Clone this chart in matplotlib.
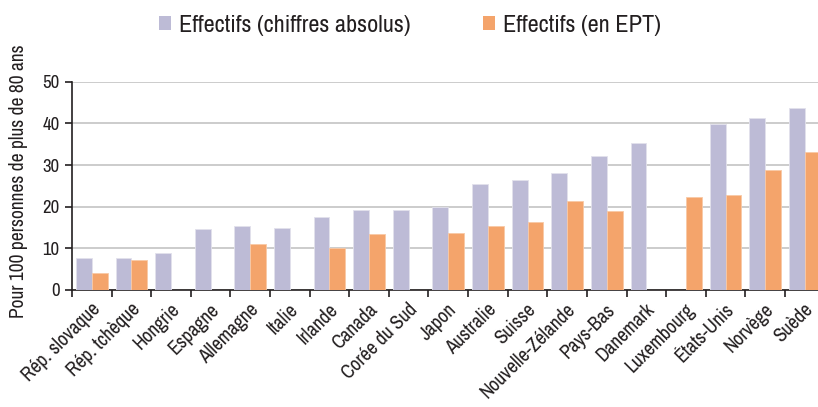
import matplotlib
matplotlib.use("Agg")
import matplotlib.pyplot as plt
import matplotlib.transforms as mtransforms
import numpy as np
from matplotlib.patches import Patch
from matplotlib import font_manager

names = {f.name for f in font_manager.fontManager.ttflist}
fam = 'Archivo Narrow' if 'Archivo Narrow' in names else 'Liberation Sans'
plt.rcParams['font.family'] = [fam, 'DejaVu Sans']

countries = ["Rép. slovaque", "Rép. tchèque", "Hongrie", "Espagne", "Allemagne", "Italie",
             "Irlande", "Canada", "Corée du Sud", "Japon", "Australie", "Suisse",
             "Nouvelle-Zélande", "Pays-Bas", "Danemark", "Luxembourg", "États-Unis",
             "Norvège", "Suède"]
absolus = [7.6, 7.6, 9.0, 14.6, 15.4, 15.0, 17.5, 19.3, 19.3, 19.9, 25.4, 26.3,
           28.1, 32.1, 35.2, None, 39.8, 41.3, 43.8]
ept = [4.0, 7.2, None, None, 11.0, None, 10.1, 13.5, None, 13.6, 15.4, 16.4,
       21.4, 19.0, None, 22.4, 22.8, 28.8, 33.1]
series_labels = ["Effectifs (chiffres absolus)", "Effectifs (en EPT)"]
yticks = [0, 10, 20, 30, 40, 50]
ylabel = "Pour 100 personnes de plus de 80 ans"

c_purple = "#BDBBD6"
c_orange = "#F4A46B"
txt_c = "#231F20"

W, H = 818, 407
fig = plt.figure(figsize=(W/100, H/100), dpi=100)
ax = fig.add_axes([72/W, (H-290)/H, (824.6-72)/W, (290-81.7)/H])

x = np.arange(len(countries))
bw = 0.40
xa = [i for i, v in enumerate(absolus) if v is not None]
va_ = [v for v in absolus if v is not None]
xe = [i for i, v in enumerate(ept) if v is not None]
ve = [v for v in ept if v is not None]
ax.bar(np.array(xa) - bw/2, va_, bw, color=c_purple, edgecolor="#E2E1EC", linewidth=0.6, zorder=3)
ax.bar(np.array(xe) + bw/2, ve, bw, color=c_orange, edgecolor="#F8C9A6", linewidth=0.6, zorder=3)

ax.set_xlim(-0.5, len(countries) - 0.5)
ax.set_ylim(0, 50)
ax.set_yticks(yticks)
ax.set_yticklabels([str(t) for t in yticks], fontsize=13.5, color=txt_c)
ax.yaxis.grid(True, color="#C8C8C8", linewidth=1.3, zorder=0)
ax.set_axisbelow(True)

ax.set_xticks(np.arange(len(countries) + 1) - 0.5)
ax.set_xticklabels([])
ax.set_xticks(x, minor=True)
ax.set_xticklabels(countries, minor=True, rotation=45, ha='right', va='top',
                   rotation_mode='anchor', fontsize=14, color=txt_c)
ax.tick_params(axis='x', which='minor', length=0, pad=7)
ax.tick_params(axis='x', which='major', direction='out', length=5, width=1.2, color=txt_c)
ax.tick_params(axis='y', direction='out', length=5, width=1.2, color=txt_c, pad=4)
offset = mtransforms.ScaledTranslation(-1/100, 0, fig.dpi_scale_trans)
for lbl in ax.get_xticklabels(minor=True):
    lbl.set_transform(lbl.get_transform() + offset)

for s in ["top", "right"]:
    ax.spines[s].set_visible(False)
for s in ["left", "bottom"]:
    ax.spines[s].set_color(txt_c)
    ax.spines[s].set_linewidth(1.2)

fig.text(19/W, 1 - 181/H, ylabel, rotation=90,
         ha='center', va='center', fontsize=14, color=txt_c)

handles = [Patch(facecolor=c_purple, edgecolor='none'), Patch(facecolor=c_orange, edgecolor='none')]
fig.legend(handles, series_labels, loc='center', bbox_to_anchor=(410/W, 1 - 25/H),
           ncol=2, frameon=False, fontsize=17.5, handlelength=0.5, handleheight=0.5,
           handletextpad=0.3, columnspacing=3.0, labelcolor=txt_c,
           borderpad=0, borderaxespad=0)

fig.savefig("out.png", dpi=100)
